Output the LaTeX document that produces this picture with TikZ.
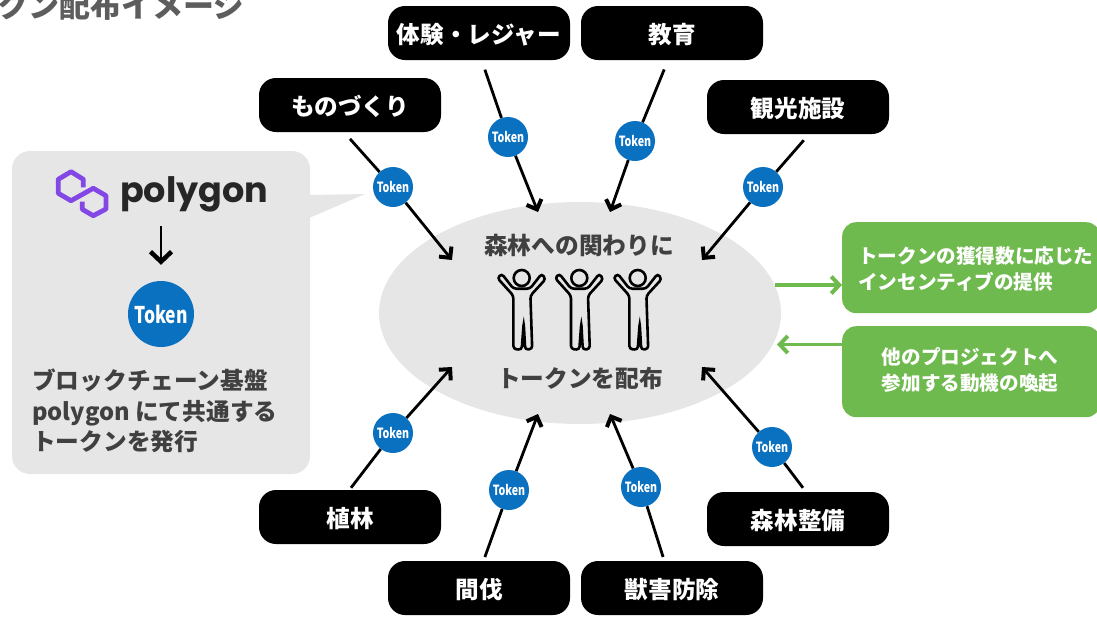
\documentclass[tikz,border=0pt]{standalone}
\usepackage{fontspec}
\setmainfont{Noto Sans CJK JP}
\newfontfamily\logofont{Poppins}
\usetikzlibrary{arrows.meta}
\definecolor{PanelGray}{HTML}{E6E6E6}
\definecolor{TokenBlue}{HTML}{0A70C0}
\definecolor{LeafGreen}{HTML}{6FBA4E}
\definecolor{LogoPurple}{HTML}{8247E5}
\definecolor{InkGray}{HTML}{404040}
\tikzset{
  tagbox/.style={fill=black, text=white, rounded corners=17pt, minimum width=182pt, minimum height=54pt, inner sep=0pt, text height=21pt, text depth=0pt, font=\bfseries\fontsize{23.6}{28}\selectfont},
  tokendot/.style={circle, fill=TokenBlue, text=white, minimum size=40pt, inner sep=0pt, font=\bfseries\fontsize{14}{16}\selectfont},
  greenbox/.style={fill=LeafGreen, rounded corners=14pt, minimum width=258pt, minimum height=91pt, inner sep=0pt},
  greentext/.style={text=white, inner sep=0pt, font=\bfseries\fontsize{19.6}{25.5}\selectfont},
  inkline/.style={line width=2.8pt, black},
  inkarrow/.style={line width=2.8pt, black, -{Straight Barb[length=8pt,width=16pt,line width=4pt]}},
  bigarrow/.style={line width=2.8pt, black, -{Straight Barb[length=10pt,width=21pt,line width=4.5pt]}},
  greenarrow/.style={line width=3.5pt, LeafGreen, -{Straight Barb[length=8pt,width=17pt,line width=4pt]}},
  inktext/.style={text=InkGray, inner sep=0pt, font=\bfseries\fontsize{23.7}{30.5}\selectfont},
  person/.pic={
    \draw[line width=2.6pt, rounded corners=3pt] (-8.3,17.7) -- (-8.3,71) -- (0,71.7) -- (2,45) -- (3.5,71.7) -- (10.5,71) -- (8.7,17.7) -- (24,1) -- (20,-4.3) -- (8.3,10.7) -- (-8.3,10.7) -- (-20,-4.3) -- (-24.3,0) -- cycle;
    \draw[line width=2.6pt] (0,0) circle (8pt);
  }
}
\newcommand{\tokenword}{\scalebox{0.76}[1]{Token}}

\begin{document}
\begin{tikzpicture}[x=1pt, y=-1pt]
  \useasboundingbox (0,0) rectangle (1097,619);

  % Cut-off heading
  \node[anchor=west, text=InkGray!85, inner sep=0pt, font=\bfseries\fontsize{31}{34}\selectfont] (heading) at (-3,6) {クン配布イメージ};

  % Polygon panel
  \fill[PanelGray, rounded corners=18pt] (12,151) rectangle (310,474);
  \fill[PanelGray] (309,195) -- (365,194) -- (309,218) -- cycle;
  \draw[LogoPurple, line width=4.8pt, line join=round] (83.3,187.3) -- (83.3,179.3) -- (71,171.7) -- (58.3,179.3) -- (58.3,193.3) -- (71,200.7) -- (93.3,188.3) -- (106,195.7) -- (106,209) -- (93.3,215.7) -- (82.3,209.3) -- (82.3,201.7);
  \node[anchor=west, text=black!85, inner sep=0pt, font=\logofont\bfseries\fontsize{35}{40}\selectfont] (polyname) at (120,194) {polygon};
  \node[circle, fill=TokenBlue, text=white, minimum size=66pt, inner sep=0pt, font=\bfseries\fontsize{23}{25}\selectfont] (bigtoken) at (161,314) {\tokenword};
  \coordinate (polyarrow) at (161,226);
  \draw[bigarrow] (polyarrow) -- ([yshift=16pt]bigtoken.north);
  \node[inktext, anchor=west, align=left] (polynote) at (32,411) {\spaceskip=0.05em ブロックチェーン基盤\\polygon にて共通する\\トークンを発行};

  % Central ellipse
  \fill[PanelGray] (580,313) ellipse (201pt and 111pt);
  \node[inktext] (hubtop) at (579,245) {森林への関わりに};
  \node[inktext] (hubbottom) at (580,378) {トークンを配布};
  \pic at (521.7,278) {person};
  \pic at (579.3,278) {person};
  \pic at (637.7,278) {person};

  % Categories above
  \node[tagbox] (making) at (350,105) {ものづくり};
  \node[tagbox] (leisure) at (479,33) {体験・レジャー};
  \node[tagbox] (school) at (672,33) {教育};
  \node[tagbox] (sights) at (798,107) {観光施設};

  % Categories below
  \node[tagbox] (planting) at (350,517) {植林};
  \node[tagbox] (thinning) at (479,588) {間伐};
  \node[tagbox] (wildlife) at (672,588) {獣害防除};
  \node[tagbox] (upkeep) at (798,519) {森林整備};

  % Tokens
  \node[tokendot] (tokmaking) at (393,187) {\tokenword};
  \node[tokendot] (tokleisure) at (508,137) {\tokenword};
  \node[tokendot] (tokschool) at (635,141) {\tokenword};
  \node[tokendot] (toksights) at (763,187) {\tokenword};
  \node[tokendot] (tokplanting) at (393,433) {\tokenword};
  \node[tokendot] (tokthinning) at (509,490) {\tokenword};
  \node[tokendot] (tokwildlife) at (641,487) {\tokenword};
  \node[tokendot] (tokupkeep) at (772,447) {\tokenword};

  % Arrow ends on the ellipse
  \coordinate (endmaking) at (452,260);
  \coordinate (endleisure) at (538,212);
  \coordinate (endschool) at (610,212);
  \coordinate (endsights) at (702,260);
  \coordinate (endplanting) at (452,367);
  \coordinate (endthinning) at (538,414);
  \coordinate (endwildlife) at (610,414);
  \coordinate (endupkeep) at (702,367);

  % Connectors
  \draw[inkline, shorten <=9pt] ([xshift=-6pt]making.south) -- (tokmaking);
  \draw[inkarrow] (tokmaking) -- (endmaking);
  \draw[inkline, shorten <=10pt] ([xshift=2.6pt]leisure.south) -- (tokleisure);
  \draw[inkarrow] (tokleisure) -- (endleisure);
  \draw[inkline, shorten <=10pt] ([xshift=-4pt]school.south) -- (tokschool);
  \draw[inkarrow] (tokschool) -- (endschool);
  \draw[inkline, shorten <=8pt] ([xshift=11pt]sights.south) -- (toksights);
  \draw[inkarrow] (toksights) -- (endsights);
  \draw[inkline, shorten <=2.5pt] ([xshift=-0.5pt]planting.north) -- (tokplanting);
  \draw[inkarrow] (tokplanting) -- (endplanting);
  \draw[inkline, shorten <=4pt] ([xshift=4.5pt]thinning.north) -- (tokthinning);
  \draw[inkarrow] (tokthinning) -- (endthinning);
  \draw[inkline, shorten <=4pt] ([xshift=-7.7pt]wildlife.north) -- (tokwildlife);
  \draw[inkarrow] (tokwildlife) -- (endwildlife);
  \draw[inkline, shorten <=5pt] ([xshift=8pt]upkeep.north) -- (tokupkeep);
  \draw[inkarrow] (tokupkeep) -- (endupkeep);

  % Green boxes
  \node[greenbox, anchor=north west] (gainbox) at (842,222) {};
  \node[greentext, anchor=west, align=left] (gaintext) at (858,269) {トークンの獲得数に応じた\\インセンティブの提供};
  \node[greenbox, anchor=north west] (motivebox) at (842,326) {};
  \node[greentext, align=center] (motivetext) at (970,370) {他のプロジェクトへ\\参加する動機の喚起};
  \coordinate (gainstart) at (775,285);
  \coordinate (motiveend) at (777,344.5);
  \draw[greenarrow] (gainstart) -- (gainstart -| gainbox.west);
  \draw[greenarrow] (motiveend -| motivebox.west) -- (motiveend);
\end{tikzpicture}
\end{document}
